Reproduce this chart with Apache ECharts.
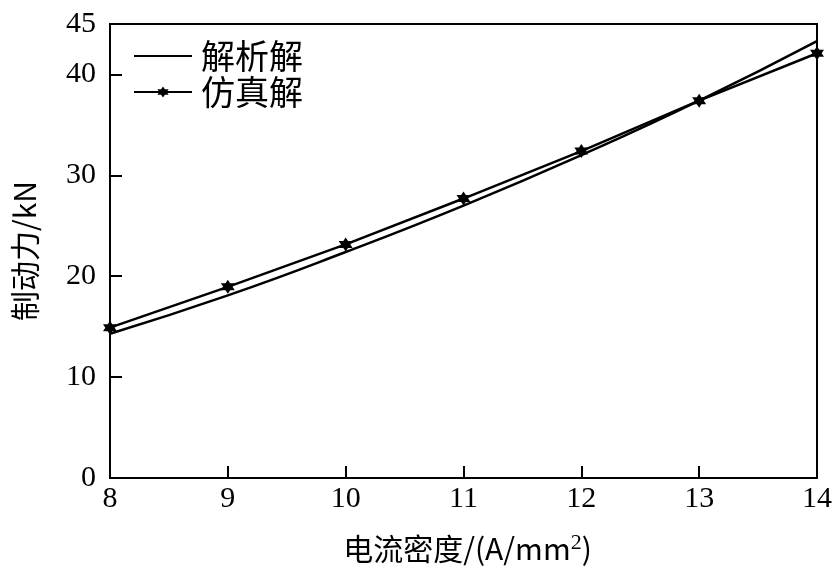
<!DOCTYPE html>
<html>
<head>
<meta charset="utf-8">
<script src="https://cdn.jsdelivr.net/npm/echarts@6/dist/echarts.min.js"></script>
<style>html,body{margin:0;padding:0;background:#fff}#c{width:839px;height:578px}</style>
</head>
<body>
<div id="c"></div>
<script>
const xValues = [8, 9, 10, 11, 12, 13, 14];
const analytical = [14.3, 18.1, 22.4, 27.0, 32.0, 37.4, 43.3];
const simulation = [14.9, 18.95, 23.15, 27.7, 32.4, 37.4, 42.1];
const seriesNames = ['解析解', '仿真解'];
const yTicks = [0, 10, 20, 30, 40, 45];

const serif = '"Liberation Serif", "Times New Roman", serif';
const cjk = '"Noto Sans CJK SC", sans-serif';
const star = 'path://M0,-10 L2.9,-5 L8.66,-5 L5.77,0 L8.66,5 L2.9,5 L0,10 L-2.9,5 L-8.66,5 L-5.77,0 L-8.66,-5 L-2.9,-5 Z';

const chart = echarts.init(document.getElementById('c'), null, {renderer: 'canvas'});
chart.setOption({
  animation: false,
  backgroundColor: '#fff',
  grid: {left: 110, right: 22, top: 24, bottom: 100, show: true, borderColor: '#000', borderWidth: 2},
  legend: {
    left: 128, top: 34, orient: 'vertical', itemWidth: 58, itemHeight: 14, itemGap: 2,
    data: [{name: seriesNames[0], itemStyle: {opacity: 0}}, {name: seriesNames[1]}],
    textStyle: {fontFamily: cjk, fontSize: 34, color: '#000', lineHeight: 34, padding: [0,0,0,4]}
  },
  xAxis: {
    type: 'value', min: 8, max: 14, interval: 1,
    axisLine: {lineStyle: {color: '#000', width: 2}},
    axisTick: {inside: true, length: 12, lineStyle: {color: '#000', width: 2}},
    splitLine: {show: false},
    axisLabel: {fontFamily: serif, fontSize: 30, color: '#000', margin: 6},
    name: '电流密度/(A/mm{sup|2})', nameLocation: 'middle', nameGap: 54,
    nameTextStyle: {fontFamily: cjk, fontSize: 30, color: '#000', padding: [0,0,0,8],
      rich: {sup: {fontFamily: serif, fontSize: 22, verticalAlign: 'top', padding: [0,0,12,0], color: '#000'}}}
  },
  yAxis: {
    type: 'value', min: 0, max: 45, interval: 10,
    axisLine: {lineStyle: {color: '#000', width: 2}},
    axisTick: {inside: true, length: 12, lineStyle: {color: '#000', width: 2}},
    splitLine: {show: false},
    axisLabel: {fontFamily: serif, fontSize: 30, color: '#000', margin: 14,
      formatter: v => yTicks.includes(v) ? String(v) : ''},
    name: '制动力/kN', nameLocation: 'middle', nameGap: 70,
    nameTextStyle: {fontFamily: cjk, fontSize: 30, color: '#000'}
  },
  series: [
    {name: seriesNames[0], type: 'line', smooth: true, showSymbol: false, symbol: 'none',
     data: xValues.map((x, i) => [x, analytical[i]]),
     lineStyle: {color: '#000', width: 2.5}, itemStyle: {color: '#000'}},
    {name: seriesNames[1], type: 'line', smooth: false, symbol: star, symbolSize: 14,
     data: xValues.map((x, i) => [x, simulation[i]]),
     lineStyle: {color: '#000', width: 2.5}, itemStyle: {color: '#000'}}
  ]
});
</script>
</body>
</html>
